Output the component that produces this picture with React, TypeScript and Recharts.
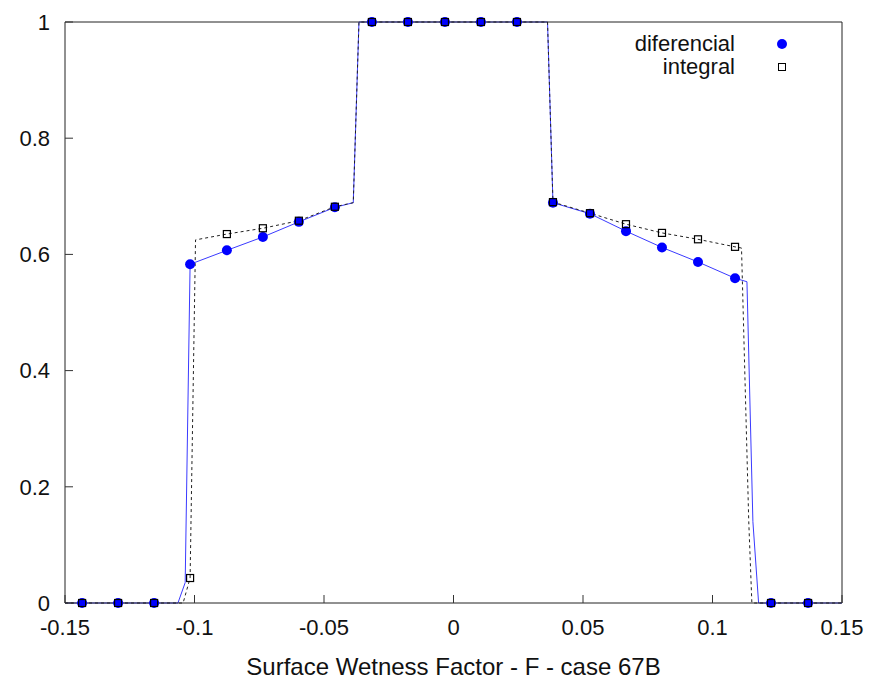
import { ComposedChart, Line, Scatter, XAxis, YAxis, Legend } from 'recharts';

// marker positions (x) shared by both series
const markerX = [
  -0.1434, -0.1295, -0.1156, -0.1017, -0.0875, -0.0736, -0.0597, -0.0458, -0.0315, -0.0176, -0.0033,
  0.0106, 0.0245, 0.0384, 0.0527, 0.0666, 0.0805, 0.0944, 0.1087, 0.1226, 0.1369,
];
const difMarkers = [0, 0, 0, 0.583, 0.607, 0.63, 0.656, 0.681, 1, 1, 1, 1, 1, 0.689, 0.67, 0.64, 0.612, 0.587, 0.559, 0, 0];
const intMarkers = [0, 0, 0, 0.043, 0.635, 0.645, 0.658, 0.682, 1, 1, 1, 1, 1, 0.69, 0.671, 0.652, 0.637, 0.626, 0.613, 0, 0];

// continuous curves (markers plus the steep transitions)
const difCurveX = [
  -0.15, -0.1434, -0.1295, -0.1156, -0.1064, -0.1036, -0.1017, -0.0875, -0.0736, -0.0597, -0.0458, -0.0387,
  -0.0365, -0.0315, -0.0176, -0.0033, 0.0106, 0.0245, 0.0363, 0.0384, 0.0527, 0.0666, 0.0805, 0.0944, 0.1087,
  0.1133, 0.1156, 0.1178, 0.1226, 0.1369, 0.15,
];
const difCurveY = [
  0, 0, 0, 0, 0, 0.035, 0.583, 0.607, 0.63, 0.656, 0.681, 0.689,
  1, 1, 1, 1, 1, 1, 1, 0.689, 0.67, 0.64, 0.612, 0.587, 0.559,
  0.553, 0.14, 0, 0, 0, 0,
];
const intCurveX = [
  -0.15, -0.1434, -0.1295, -0.1156, -0.1044, -0.1017, -0.0996, -0.0875, -0.0736, -0.0597, -0.0458, -0.0387,
  -0.0365, -0.0315, -0.0176, -0.0033, 0.0106, 0.0245, 0.0363, 0.0384, 0.0527, 0.0666, 0.0805, 0.0944, 0.1087,
  0.1112, 0.114, 0.1152, 0.1226, 0.1369, 0.15,
];
const intCurveY = [
  0, 0, 0, 0, 0, 0.043, 0.625, 0.635, 0.645, 0.658, 0.682, 0.689,
  1, 1, 1, 1, 1, 1, 1, 0.69, 0.671, 0.652, 0.637, 0.626, 0.613,
  0.611, 0.14, 0, 0, 0, 0,
];

const xTicks = [-0.15, -0.1, -0.05, 0, 0.05, 0.1, 0.15];
const yTicks = [0, 0.2, 0.4, 0.6, 0.8, 1];

const FONT = '"Liberation Sans", Arial, sans-serif';
const BLUE = '#0000ff';

const difLine = difCurveX.map((x, i) => ({ x, y: difCurveY[i] }));
const intLine = intCurveX.map((x, i) => ({ x, y: intCurveY[i] }));
const difPoints = markerX.map((x, i) => ({ x, y: difMarkers[i] }));
const intPoints = markerX.map((x, i) => ({ x, y: intMarkers[i] }));

const Dot = (props: any) => <circle cx={props.cx} cy={props.cy} r={5} fill={BLUE} />;
const Square = (props: any) => (
  <rect x={props.cx - 3.5} y={props.cy - 3.5} width={7} height={7} fill="none" stroke="#000" strokeWidth={1.2} />
);

function LegendBox() {
  const row = { display: 'flex', alignItems: 'center', height: 23 } as const;
  const label = { width: 135, textAlign: 'right', fontSize: 22, lineHeight: '23px', color: '#111' } as const;
  return (
    <div style={{ fontFamily: FONT }}>
      <div style={row}>
        <span style={label}>diferencial</span>
        <svg width={20} height={20} style={{ marginLeft: 37 }}>
          <circle cx={10} cy={10} r={5} fill={BLUE} />
        </svg>
      </div>
      <div style={row}>
        <span style={label}>integral</span>
        <svg width={20} height={20} style={{ marginLeft: 37 }}>
          <rect x={6.5} y={6.5} width={7} height={7} fill="none" stroke="#000" />
        </svg>
      </div>
    </div>
  );
}

export default function App() {
  const tickStyle = { fontSize: 22, fill: '#111', fontFamily: FONT };
  const axisStroke = { stroke: '#222' };
  const tickStroke = { stroke: '#333' };
  return (
    <div style={{ position: 'absolute', left: 0, top: 0, background: '#fff' }}>
      <ComposedChart width={872} height={680} margin={{ top: 21, right: 29, bottom: 0, left: 0 }}>
        <XAxis
          dataKey="x"
          type="number"
          domain={[-0.15, 0.15]}
          ticks={xTicks}
          height={77}
          tickSize={-8}
          tickMargin={24}
          tick={tickStyle}
          tickFormatter={(v) => String(v)}
          axisLine={axisStroke}
          tickLine={tickStroke}
          label={{
            value: 'Surface Wetness Factor - F - case 67B',
            position: 'insideBottom',
            offset: 5,
            fontSize: 24,
            fill: '#111',
            fontFamily: FONT,
          }}
        />
        <XAxis
          xAxisId="top"
          orientation="top"
          dataKey="x"
          type="number"
          domain={[-0.15, 0.15]}
          ticks={xTicks}
          height={1}
          tickSize={-8}
          tickFormatter={() => ''}
          axisLine={axisStroke}
          tickLine={tickStroke}
        />
        <YAxis
          dataKey="y"
          type="number"
          domain={[0, 1]}
          ticks={yTicks}
          width={65}
          tickSize={-8}
          tickMargin={23}
          tick={tickStyle}
          tickFormatter={(v) => String(v)}
          axisLine={axisStroke}
          tickLine={tickStroke}
        />
        <YAxis
          yAxisId="right"
          orientation="right"
          dataKey="y"
          type="number"
          domain={[0, 1]}
          ticks={yTicks}
          width={1}
          tickSize={-8}
          tickFormatter={() => ''}
          axisLine={axisStroke}
          tickLine={tickStroke}
        />
        <Legend
          layout="vertical"
          align="center"
          verticalAlign="middle"
          content={() => <LegendBox />}
          wrapperStyle={{ left: 600, top: 32, width: 200, height: 46 }}
        />
        <Line
          data={difLine}
          dataKey="y"
          type="linear"
          stroke="#3a3aff"
          strokeWidth={1}
          dot={false}
          activeDot={false}
          isAnimationActive={false}
          legendType="none"
        />
        <Line
          data={intLine}
          dataKey="y"
          type="linear"
          stroke="#222"
          strokeWidth={1}
          strokeDasharray="3 3"
          dot={false}
          activeDot={false}
          isAnimationActive={false}
          legendType="none"
        />
        <Scatter data={difPoints} dataKey="y" shape={Dot} isAnimationActive={false} legendType="none" />
        <Scatter data={intPoints} dataKey="y" shape={Square} isAnimationActive={false} legendType="none" />
      </ComposedChart>
    </div>
  );
}
